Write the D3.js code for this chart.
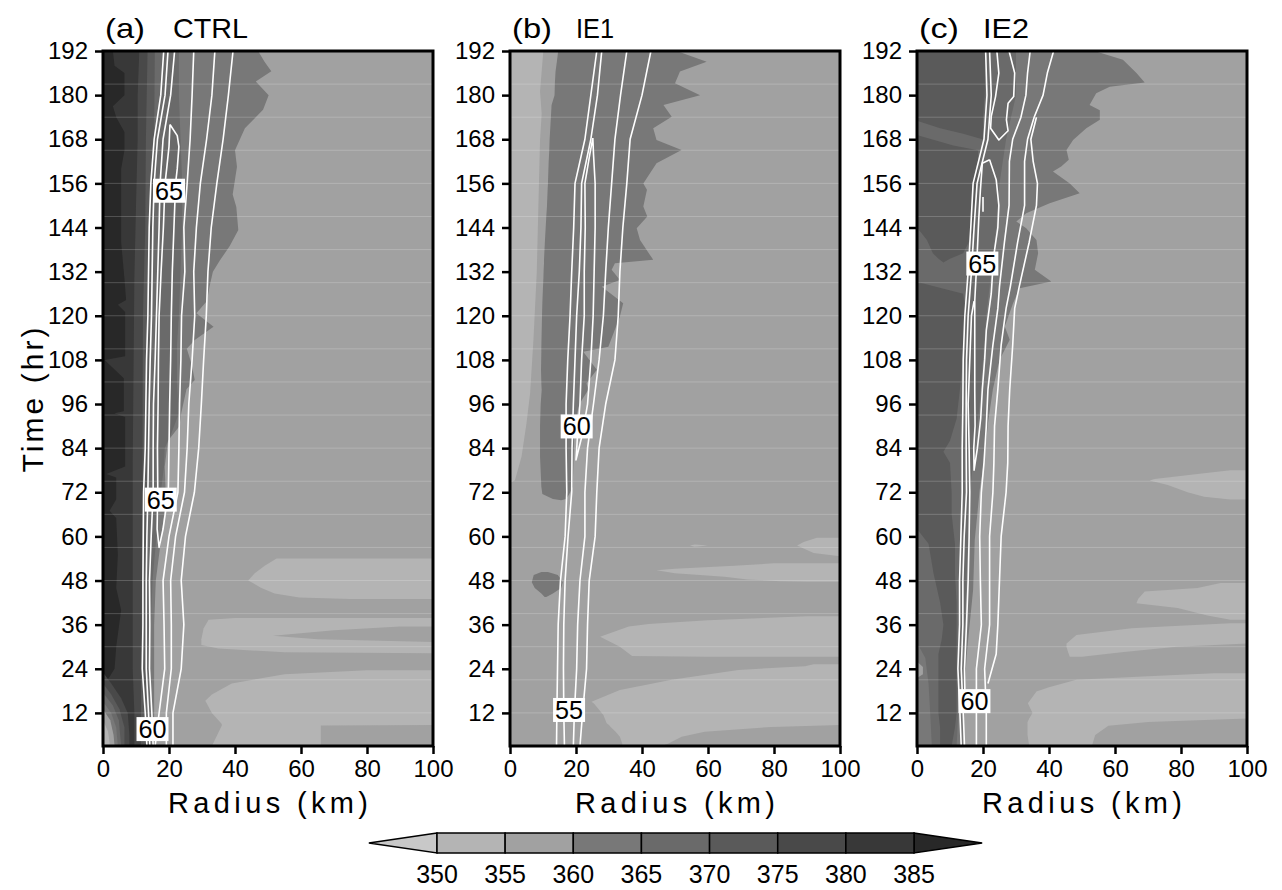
<!DOCTYPE html>
<html><head><meta charset="utf-8">
<script src="https://cdn.jsdelivr.net/npm/d3@7"></script>
<style>body{margin:0;background:#fff;} text{font-family:"Liberation Sans",Arial,sans-serif;}</style>
</head><body>
<svg id="chart" width="1282" height="890"></svg>
<script>
// ---------------- DATA ----------------
const panelTags = ["(a)", "(b)", "(c)"];
const panelNames = ["CTRL", "IE1", "IE2"];
const radiusTicks = [0, 20, 40, 60, 80, 100];
const timeTicks = [12, 24, 36, 48, 60, 72, 84, 96, 108, 120, 132, 144, 156, 168, 180, 192];
const levels = [350, 355, 360, 365, 370, 375, 380, 385];
// class 0: <350, 1: 350-355, ... 8: >385
const grays = ["#c8c8c8", "#b4b4b4", "#a1a1a1", "#787878", "#6a6a6a", "#5a5a5a", "#494949", "#383838", "#282828"];
const seamTimes = [12, 21, 30, 39, 48, 57, 66, 75, 84, 93, 102, 111, 120, 129, 138, 147, 156, 165, 174, 183];

// filled regions: [time (hr), inner radius (km), outer radius (km)]
// ---- (a) CTRL
const ctrl360 = [[192,0,47],[189,0,49],[186.5,0,51],[183.7,0,46.3],[180,0,50.2],[176,0,48.5],[171,0,43],[165,0,40],[160.5,0,40.6],[153,0,39.3],[149.6,0,40.4],[143.3,0,41],[139,0,38.4],[135,0,35.4],[132,0,33.3],[128,0,32.3],[124,0,31.5],[120.7,0,28.3],[117,0,33.5],[113.4,0,27.8],[111,0,25.4],[107,0,26.8],[102.5,0,27.8],[100,0,25.3],[93.5,0,23.7],[90,0,23.2],[86,0,19.7],[79,0,18.7],[72,0,19],[66,0,18.5],[60,0,17.7],[48,0,16],[36,0,15.5],[24,0,15.5],[12,0,15.5],[3,0,15.5]];
const ctrl365 = [[192,0,23],[180,0,23],[168,0,23.5],[156,0,24],[144,0,24],[132,0,23.5],[120,0,23],[112,0,22.4],[102,0,22.4],[93.5,0,23],[88,0,20.7],[84,0,18.7],[79,0,18.5],[72,0,17.5],[60,0,16.2],[48,0,15],[36,0,14.5],[24,0,14.3],[12,0,14.5],[3,0,14.5]];
const ctrl370 = [[192,0,15.7],[168,0,15.5],[144,0,15],[120,0,14.1],[96,0,13.8],[72,0,13.5],[48,0,13.2],[24,0,13],[3,0,13]];
const ctrl375 = [[192,0,13.5],[168,0,13],[144,0,12.8],[120,0,12.1],[96,0,12],[72,0,12],[48,0,11.8],[24,0,11.5],[3,0,11.5]];
const ctrl380 = [[192,0,11],[180,0,10.5],[168,0,10.5],[150,0,10],[130,0,9.5],[100,0,9.2],[80,0,9],[36,0,9],[24,0,9],[12,0,9.5],[3,0,9.5]];
const ctrl385 = [[192,0,3],[188,0,3.5],[186,0,6.5],[180,0,6.5],[177,0,3],[174,0,4],[170,0,6.5],[165,0,6.5],[160,0,5.5],[140,0,5.5],[130,0,6.5],[124.3,0,7],[123,0,4.5],[121,0,6.7],[109,0,6.7],[108,0,0.5],[103,0,6.3],[94,0,6.3],[93.5,0,3.4],[92.5,0,6.7],[79,0,6.7],[77,0,1],[76,0,4],[70,0,4],[67,0,2],[65,0,4],[55,0,4.5],[46,0,4],[40,0,5.5],[30,0,4],[24,0,3.5],[21.8,0,2],[19.6,0,0]];
const ctrlCore380 = [[23,0,0],[20,0,2.5],[16,0,5.5],[12,0,7.5],[6,0,8],[3,0,8]];
const ctrlCore375 = [[20,0,0],[17,0,2.5],[13,0,5],[8,0,6.5],[3,0,6.5]];
const ctrlCore370 = [[17.5,0,0],[14,0,3],[10,0,4.8],[3,0,5.5]];
const ctrlCore365 = [[15,0,0],[12,0,2.5],[8,0,4],[3,0,4.5]];
const ctrlCore360 = [[13,0,0],[10,0,2.2],[6,0,3.2],[3,0,3.5]];
const ctrlCore355 = [[10,0,0],[7,0,1.5],[4,0,2],[3,0,2]];
const ctrlLow1 = [[54,52.6,100],[52,49,100],[50,46,100],[48,44,100],[46,48,100],[44.5,52,100],[43.4,59.5,100],[43,75,100]];
const ctrlLow2 = [[37.8,40,100],[37.3,32,100],[35,30.5,100],[32,29.8,100],[30.5,29.8,100],[29.5,35,100],[28.5,55,100],[28.2,100,100]];
const ctrlGap2 = [[35.5,90,100],[34.5,70,100],[33,51.5,100],[32,65,100],[31.3,100,100]];
const ctrlLow3 = [[23.6,80,100],[22.5,55,100],[20,39,100],[17,33,100],[15.3,31,100],[12,33,100],[9,36,100],[8.7,36,100],[8.6,36,66],[3,33,66]];

// ---- (b) IE1
const ie1Band360 = [[192,14.6,50.5],[189.1,14.2,59.6],[186.4,13.8,51.5],[183.2,13.6,50],[180,13.5,57.6],[177.3,12.6,46.5],[174.1,12.4,49],[171,12.2,43.4],[167.8,12,44.4],[165.1,11.9,52],[161.5,11.7,44.4],[156,11.5,40.4],[154.3,11.4,41.5],[149.7,11.2,40.4],[147,11,41.6],[143.8,10.8,38.4],[140.6,10.6,39.4],[135.2,10.3,43.4],[134.3,10.3,31.8],[132.5,10.2,30.8],[129.7,10.1,33.3],[127.9,10,27.8],[123.4,9.8,34.3],[119.8,9.7,33.3],[111.6,9.5,29.8],[110.2,9.5,22.2],[105.3,9.4,26.3],[101.6,9.5,23.2],[99.8,9.6,23.7],[96,9.3,21],[90,9.1,19.5],[81.7,9.1,19.3],[73.5,9.5,19],[71.5,9.8,18],[70.2,13,17],[69.8,15.5,15.5]];
const ie1Blob360 = [[50.3,9.5,11.5],[49.5,7.2,14.5],[47.5,6.6,16],[46,7.5,15.5],[44.5,9.5,13],[43.5,10.5,11]];
const ie1Inner355 = [[192,0,10.1],[181,0,9.1],[175,0,9.6],[167.8,0,9.1],[149.7,0,8.6],[131.6,0,8.1],[113.4,0,7.1],[99,0,6.1],[90.8,0,5],[81.7,0,3.5],[75.3,0,1.5],[74.5,0,0]];
const ie1Low1 = [[57.8,56,56],[57.5,54.5,60],[57.2,56,56]];
const ie1Low2 = [[59.6,93,100],[58.5,89,100],[57.5,87,100],[55.5,92,100],[54.6,100,100]];
const ie1Low3 = [[52.7,80,100],[52,68,100],[51.2,50,100],[50.8,44.4,100],[50,50,100],[49,65,100],[48.3,72,100],[47.8,82,100],[47.7,90,100]];
const ie1Low4 = [[38.3,90,100],[37.2,60,100],[36.2,42,100],[35.5,36,100],[32.7,27.3,100],[30,33.3,100],[27.5,37,100],[27.3,60,100]];
const ie1Low5 = [[25.2,92,100],[24.7,89.4,100],[23.7,69.2,100],[21,49,100],[18.2,33.3,100],[15,24.7,100],[14.5,25.5,100],[11.4,28.3,100],[9.2,29.3,100],[8.7,30,100],[8.2,30.5,79.3],[6.9,32,59],[5.5,33.3,52],[3.7,34,48],[3,34,46]];

// ---- (c) IE2
const ie2Band360 = [[192,0,53.8],[189.6,0,62.4],[186,0,66.5],[183.4,0,69],[182.3,0,58.4],[180.5,0,54.3],[177.3,0,52.3],[175.9,0,55.4],[173.3,0,55.4],[171,0,51.3],[167.8,0,47.3],[165.1,0,45.3],[162.4,0,46],[160.6,0,43.7],[159.2,0,41.2],[156,0,46.3],[153.3,0,49.3],[150.6,0,40.2],[147.9,0,33.1],[145.6,0,30.1],[143.8,0,33.1],[140.6,0,36.2],[137,0,36.7],[132.5,0,35.7],[129.3,0,40.7],[127.5,0,31.1],[123.4,0,29.1],[117.1,0,26.6],[113.5,0,28.1],[108,0,25],[100,0,23],[90.8,0,21.5],[81.7,0,20.5],[72.6,0,19],[59,0,17.5],[45.4,0,17],[36.4,0,16],[27.3,0,15],[18.3,0,14.5],[3,0,14]];
const ie2Band365 = [[192,0,30],[180,0,30],[172,0,28],[168,0,27],[156,0,25],[144,0,24],[132,0,22.5],[120,0,21],[108,0,20],[96,0,19],[84,0,17.5],[72,0,16],[60,0,15.5],[48,0,15],[36,0,14.5],[24,0,13.5],[12,0,12.5],[3,0,12]];
const ie2Band370a = [[192,0,21],[180,0,20.5],[173,0,20],[171,7,20],[169.5,14,20],[168,19.8,20]];
const ie2Band370b = [[169,0,0.5],[166.3,0,11],[165,0,18.5],[160,0,18.5],[150,0,18],[144,0,17.5],[140.6,3,16],[137,4.8,14],[135.5,6.5,10],[134.5,8,8]];
const ie2Band370c = [[129,0,1],[126,0,14],[120,0,15],[108,0,14],[100,0,13],[92,0,12],[86,0,10],[83,0,8],[80,0,10],[72,0,10.5],[66,0,10.5],[62,0,11],[58,3.5,11.5],[50,5,11.5],[42,7,12],[36,8,12],[32,7.5,12],[28,6.5,12],[20,6.5,12],[12,6.5,12],[8,7,11.5],[3,7,10.5]];
const ie2Core365 = [[31,0,0],[27,0,2.5],[20,0,3.5],[12,0,4],[3,0,4.5]];
const ie2Core360 = [[26,0,0],[24.5,0,1.8],[22.5,0,1.8],[21.5,0,0]];
const ie2Low1 = [[78,95,100],[77,85,100],[75.6,72,100],[75.2,70.5,100],[74,76,100],[72,82,100],[70.8,87,100],[70,95,100]];
const ie2Low2 = [[47.3,92,100],[46,85,100],[45,69,100],[43,67,100],[41.8,66.5,100],[40.5,79,100],[38.5,88,100],[37.3,95,100]];
const ie2Low3 = [[36.4,95,100],[35.5,75,100],[35,65,100],[33.2,48.3,100],[31,45.5,100],[30.9,45.3,100],[30,45.3,78.6],[28.5,45.8,62],[27.3,46.3,50]];
const ie2Low4 = [[22.8,90,100],[22,70,100],[21,48.3,100],[19,40,100],[17.8,36.2,100],[14.6,33.6,100],[12,35,100],[10.5,34,100],[9.5,33.5,70],[8.5,33.5,58],[6,33.5,54],[3,34,53]];

// white contour lines: radius (km) at lineTimes, or [time, radius] pairs
const lineTimes = [192, 180, 168, 156, 144, 132, 120, 108, 96, 84, 72, 60, 48, 36, 24, 12, 3];
const ctrlL1 = [18.4,17.5,15.5,14.5,14.0,13.8,13.6,13.2,13.0,12.8,12.3,12.2,12.1,12.1,11.9,12.8,13.3];
const ctrlL2 = [19.7,18.8,16.5,15.5,15.1,14.9,14.7,14.3,14.0,13.8,13.6,13.3,13.1,13.1,13.1,13.8,14.2];
const ctrlL3 = [21.7,20.5,18.2,17.3,17.0,16.6,16.2,15.8,15.3,15.2,15.2,14.6,14.1,14.2,14.1,14.8,15.2];
const ctrlO1 = [27.5,27.0,26.4,25.5,24.5,24.8,23.8,23.6,23.2,23.0,22.7,20.0,18.2,18.5,18.7,17.0,15.8];
const ctrlO2 = [33.9,33.0,31.4,29.5,28.3,27.5,27.8,27.0,26.0,25.5,24.7,22.0,20.5,20.7,20.7,19.2,19.2];
const ctrlO3 = [39.4,38.0,36.4,34.5,32.8,31.8,31.3,30.5,29.8,29.0,27.7,25.0,23.7,24.5,23.7,21.2,21.2];
const ctrlLoop = [[172,20.3],[166,20.0],[160,19.3],[156,18.8],[144,18.3],[132,17.6],[120,17.0],[108,16.8],[96,16.7],[84,16.5],[72,16.6],[62,16.4],[57,17.0],[62,18.2],[72,19.8],[84,20.0],[96,20.2],[108,20.5],[120,20.7],[132,21.0],[144,21.5],[156,22.0],[160,22.5],[166,23.0],[169,22.5],[172,20.3]];
const ie1L1 = [26.3,24.5,22.7,19.7,19.3,18.7,18.2,17.5,17.0,17.0,17.2,16.7,15.3,14.6,14.4,14.2,14.1];
const ie1L2 = [27.8,26.5,24.5,21.7,21.5,21.0,20.2,19.7,19.2,18.8,18.7,17.6,16.7,16.3,16.2,16.3,16.5];
const ie1L3 = [35.4,33.5,31.8,30.8,29.8,29.0,28.3,27.0,25.3,23.5,22.7,22.7,21.2,20.5,20.2,19.5,19.2];
const ie1L4 = [42.7,40.0,36.4,35.4,34.2,33.3,32.8,31.8,29.0,27.0,26.3,25.8,24.0,23.5,23.2,22.0,21.2];
const ie1Loop = [[168.3,25.1],[164,24.2],[156,22.7],[144,22.8],[132,22.5],[120,22.5],[108,21.7],[96,21.2],[88,20.5],[80.8,20.0],[88,22.0],[96,23.5],[108,24.5],[120,25.2],[132,25.5],[144,25.8],[156,25.8],[164,25.3],[168.3,25.1]];
const ie2C1 = [20.8,21.2,20.3,17.0,16.3,15.5,14.5,14.0,13.9,13.7,13.7,13.3,12.9,12.9,12.4,13.0,13.4];
const ie2C2 = [22.0,22.5,21.5,18.2,17.3,16.5,15.5,15.0,14.9,14.9,15.0,14.3,13.9,13.9,13.4,14.0,14.4];
const ie2C3 = [[124,17.3],[120,16.5],[108,16],[96,15.5],[84,15.8],[72,16],[60,15.8],[48,15.5],[36,15],[24,14.4],[12,14.6]];
const ie2Loop = [[162.4,22.0],[161.5,19.8],[154,19.2],[146,18.7],[136,18.2],[124,17.5],[112,17.5],[100,17.5],[90,17.6],[84,17.2],[78,17.3],[84,18.3],[92,19.3],[100,19.8],[108,20.5],[116,21],[126,22.5],[136,23.2],[144,24.5],[150,24.8],[157,24],[162.4,22.0]];
const ie2TopU = [[192,24.2],[186,24.8],[179.6,23.8],[174.2,22.5],[171,22.3],[167.8,24.8],[170.3,27.6],[173.3,27.1],[177.8,27.6],[179.6,29.3],[186,29.6],[192,27.9]];
const ie2Tick = [[152.3,20],[148.3,20]];
const ie2O1 = [[192,34.3],[186,33.5],[180,33],[174,31.5],[168,29],[162,28],[150,27.9],[140,26.5],[128,25],[122,24.5],[112,23],[100,21.5],[90,21],[80,20.3],[72,19.5],[60,19],[48,19.2],[36,19.5],[24,18],[12,18],[3,18]];
const ie2O2 = [[192,41.4],[186,39.5],[180,38.2],[174,35.5],[168,33.5],[162,32.6],[150,32.6],[140,30.5],[128,28.3],[122,27],[112,25.5],[100,24.5],[90,23.5],[80,23.3],[72,23],[60,22],[48,22],[36,22],[24,20.5],[12,21],[3,21]];
const ie2O3 = [[174,36.2],[168,34.5],[162,35.2],[156,36.5],[150,36.2],[140,34],[128,31],[122,29.6],[112,29],[100,28.1],[90,27.6],[80,27.5],[72,27],[60,25.5],[48,25],[36,24.5],[28,24],[20,21.5]];

// contour labels: [time, radius, text]
const ctrlLabels = [[154, 20, "65"], [70, 17.5, "65"], [7.6, 15, "60"]];
const ie1Labels = [[89.9, 20.2, "60"], [12.8, 17.9, "55"]];
const ie2Labels = [[134.2, 19.8, "65"], [15.2, 17.4, "60"]];

// ---------------- BUILD ----------------
const onTimes = rs => lineTimes.map((t, k) => [t, rs[k]]);
const panels = [
  { layers: [[3, ctrl360], [4, ctrl365], [5, ctrl370], [6, ctrl375], [7, ctrl380], [8, ctrl385],
             [6, ctrlCore380], [5, ctrlCore375], [4, ctrlCore370], [3, ctrlCore365], [2, ctrlCore360], [1, ctrlCore355],
             [1, ctrlLow1], [1, ctrlLow2], [2, ctrlGap2], [1, ctrlLow3]],
    lines: [onTimes(ctrlL1), onTimes(ctrlL2), onTimes(ctrlL3), onTimes(ctrlO1), onTimes(ctrlO2), onTimes(ctrlO3), ctrlLoop],
    labels: ctrlLabels },
  { layers: [[3, ie1Band360], [3, ie1Blob360], [1, ie1Inner355], [1, ie1Low1], [1, ie1Low2], [1, ie1Low3], [1, ie1Low4], [1, ie1Low5]],
    lines: [onTimes(ie1L1), onTimes(ie1L2), onTimes(ie1L3), onTimes(ie1L4), ie1Loop],
    labels: ie1Labels },
  { layers: [[3, ie2Band360], [4, ie2Band365], [5, ie2Band370a], [5, ie2Band370b], [5, ie2Band370c], [3, ie2Core365], [2, ie2Core360],
             [1, ie2Low1], [1, ie2Low2], [1, ie2Low3], [1, ie2Low4]],
    lines: [onTimes(ie2C1), onTimes(ie2C2), ie2C3, ie2Loop, ie2TopU, ie2Tick, ie2O1, ie2O2, ie2O3],
    labels: ie2Labels }
];

const svg = d3.select("#chart");
const lefts = [103, 510, 917];
const plotW = 330, plotTop = 51, plotBottom = 746;
const nameX = [173, 576, 983];
const nameLen = [75, 38, 46];

panels.forEach((p, i) => {
  const x = d3.scaleLinear().domain([0, 100]).range([lefts[i], lefts[i] + plotW]);
  const y = d3.scaleLinear().domain([3, 192]).range([plotBottom, plotTop]);
  const g = svg.append("g");
  const cid = "clip" + i;
  svg.append("clipPath").attr("id", cid).append("rect")
    .attr("x", x(0)).attr("y", y(192)).attr("width", x(100) - x(0)).attr("height", y(3) - y(192));
  const body = g.append("g").attr("clip-path", `url(#${cid})`);
  body.append("rect").attr("x", x(0)).attr("y", y(192)).attr("width", x(100) - x(0)).attr("height", y(3) - y(192))
    .attr("fill", grays[2]);
  const area = d3.area().y(d => y(d[0])).x0(d => x(d[1])).x1(d => x(d[2]));
  p.layers.forEach(([c, pts]) => body.append("path").attr("d", area(pts)).attr("fill", grays[c]));
  seamTimes.forEach(t => body.append("line").attr("x1", x(0)).attr("x2", x(100)).attr("y1", y(t)).attr("y2", y(t))
    .attr("stroke", "rgba(255,255,255,0.2)").attr("stroke-width", 1));
  const line = d3.line().x(d => x(d[1])).y(d => y(d[0]));
  p.lines.forEach(l => body.append("path").attr("d", line(l)).attr("fill", "none")
    .attr("stroke", "#fff").attr("stroke-width", 1.6).attr("stroke-linejoin", "round"));
  p.labels.forEach(([t, r, s]) => {
    const cx = x(r), cy = y(t);
    body.append("rect").attr("x", cx - 16).attr("y", cy - 12).attr("width", 32).attr("height", 24).attr("fill", "#fff");
    body.append("text").attr("x", cx).attr("y", cy + 9).attr("text-anchor", "middle").attr("font-size", 25)
      .attr("textLength", 28).attr("lengthAdjust", "spacingAndGlyphs").attr("fill", "#000").text(s);
  });
  // axes
  const styleAxis = a => {
    a.select(".domain").remove();
    a.selectAll(".tick line").attr("stroke", "#000").attr("stroke-width", 2.5);
    a.selectAll(".tick text").attr("font-size", 24).attr("fill", "#000");
  };
  g.append("g").attr("transform", `translate(${x(0)},0)`)
    .call(d3.axisLeft(y).tickValues(timeTicks).tickSize(8).tickPadding(7)).call(styleAxis);
  g.append("g").attr("transform", `translate(0,${y(3)})`)
    .call(d3.axisBottom(x).tickValues(radiusTicks).tickSize(8).tickPadding(6)).call(styleAxis);
  g.append("rect").attr("x", x(0)).attr("y", y(192)).attr("width", x(100) - x(0)).attr("height", y(3) - y(192))
    .attr("fill", "none").attr("stroke", "#000").attr("stroke-width", 3);
  // titles
  g.append("text").attr("x", x(0) + 2).attr("y", 38).attr("font-size", 28)
    .attr("textLength", 40).attr("lengthAdjust", "spacingAndGlyphs").text(panelTags[i]);
  g.append("text").attr("x", nameX[i]).attr("y", 38).attr("font-size", 28)
    .attr("textLength", nameLen[i]).attr("lengthAdjust", "spacingAndGlyphs").text(panelNames[i]);
  g.append("text").attr("x", (x(0) + x(100)) / 2).attr("y", 813).attr("text-anchor", "middle")
    .attr("font-size", 29).attr("textLength", 200).attr("lengthAdjust", "spacing").text("Radius (km)");
});

// y-axis title
svg.append("text").attr("transform", "translate(43,400) rotate(-90)").attr("text-anchor", "middle")
  .attr("font-size", 30).attr("textLength", 145).attr("lengthAdjust", "spacing").text("Time (hr)");

// colorbar
const cb = d3.scaleLinear().domain([350, 385]).range([437, 914]);
const cbTop = 833, cbBot = 853, cbMid = (cbTop + cbBot) / 2;
const cbg = svg.append("g");
const boxW = cb(355) - cb(350);
cbg.append("path").attr("d", `M${cb(350)},${cbTop}L${cb(350) - boxW},${cbMid}L${cb(350)},${cbBot}Z`)
  .attr("fill", grays[0]).attr("stroke", "#000").attr("stroke-width", 1.5);
cbg.append("path").attr("d", `M${cb(385)},${cbTop}L${cb(385) + boxW},${cbMid}L${cb(385)},${cbBot}Z`)
  .attr("fill", grays[8]).attr("stroke", "#000").attr("stroke-width", 1.5);
levels.slice(0, -1).forEach((lv, k) => {
  cbg.append("rect").attr("x", cb(lv)).attr("y", cbTop).attr("width", cb(levels[k + 1]) - cb(lv)).attr("height", cbBot - cbTop)
    .attr("fill", grays[k + 1]).attr("stroke", "#000").attr("stroke-width", 1.5);
});
levels.forEach(lv => cbg.append("text").attr("x", cb(lv)).attr("y", 883).attr("text-anchor", "middle")
  .attr("font-size", 25).text(lv));
</script></body></html>
